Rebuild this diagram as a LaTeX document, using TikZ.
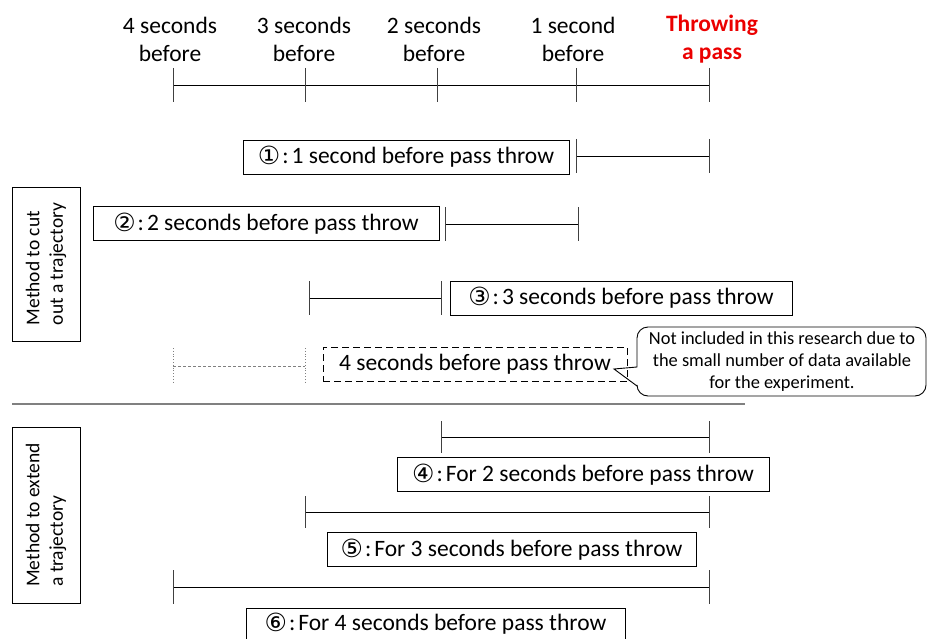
\documentclass[tikz,border=0pt]{standalone}
\usepackage{fontspec}
\setmainfont{Carlito}
\newfontfamily\circfont{DejaVu Sans}
\tikzset{
  lbl/.style={font=\fontsize{23.5}{28}\selectfont, align=center, inner sep=0pt},
  boxlbl/.style={draw, line width=0.9pt, font=\fontsize{23.5}{28}\selectfont, inner xsep=4pt, inner ysep=0pt, minimum height=34pt},
  sidebox/.style={draw, line width=0.9pt, rotate=90, minimum height=68pt, align=left, font=\fontsize{19.5}{23.5}\selectfont},
  seg/.style={line width=0.9pt},
  tickline/.style={line width=0.9pt, black!75},
  ghost/.style={line width=0.8pt, gray, dashed, dash pattern=on 3pt off 2pt},
}
\newcommand{\circn}[1]{{\circfont\fontsize{25}{25}\selectfont\raisebox{-1pt}{#1}}\kern2pt:\kern3pt}
\newcommand{\bracketline}[4][]{%
  \draw[seg,#1] (#2) -- (#3);
  \draw[tickline,#1] ([yshift=#4]#2) -- ([yshift=-#4]#2);
  \draw[tickline,#1] ([yshift=#4]#3) -- ([yshift=-#4]#3);
}
\begin{document}
\begin{tikzpicture}[x=1pt,y=-1pt]
\useasboundingbox (0,0) rectangle (928,639);

% top labels
\node[lbl] (t4) at (170,39) {4 seconds\\before};
\node[lbl] (t3) at (304,39) {3 seconds\\before};
\node[lbl] (t2) at (434,39) {2 seconds\\before};
\node[lbl] (t1) at (573,39) {1 second\\before};
\node[lbl, text={rgb,255:red,235;green,0;blue,0}, font=\bfseries\fontsize{23.5}{28}\selectfont] (t0) at (712,39) {Throwing\\a pass};

% axis
\coordinate (a4) at (173,85);
\coordinate (a3) at (305,85);
\coordinate (a2) at (437,85);
\coordinate (a1) at (576,85);
\coordinate (a0) at (709,85);
\draw[seg] (a4) -- (a0);
\foreach \c in {a4,a3,a2,a1,a0} {\draw[tickline] ([yshift=17]\c) -- ([yshift=-17]\c);}

% cut-out rows
\coordinate (r1a) at (576,156); \coordinate (r1b) at (709,156);
\coordinate (r2a) at (445,224); \coordinate (r2b) at (578,224);
\coordinate (r3a) at (309,298); \coordinate (r3b) at (441,298);
\coordinate (r4a) at (173,366); \coordinate (r4b) at (305,366);
\bracketline{r1a}{r1b}{17}
\bracketline{r2a}{r2b}{17}
\bracketline{r3a}{r3b}{17}
\draw[ghost] (r4a) -- (r4b);
\draw[gray, line width=0.8pt, dotted] ([yshift=18]r4a) -- ([yshift=-18]r4a);
\draw[gray, line width=0.8pt, dotted] ([yshift=18]r4b) -- ([yshift=-18]r4b);

\node[boxlbl, minimum width=326pt] (b1) at (406,157) {\circn{①}1 second before pass throw};
\node[boxlbl, minimum width=346pt] (b2) at (266,223.5) {\circn{②}2 seconds before pass throw};
\node[boxlbl, minimum width=342pt] (b3) at (621,298) {\circn{③}3 seconds before pass throw};
\node[boxlbl, dashed, dash pattern=on 7pt off 4pt, minimum width=304pt] (b4) at (475,364) {4 seconds before pass throw};

% callout
\node[font=\fontsize{18.4}{22}\selectfont, align=center, inner sep=0pt] (note) at (782,362)
  {Not included in this research due to\\the small number of data available\\for the experiment.};
\coordinate (tip) at (614,369);
\draw[line width=0.9pt] (tip) -- (637,367) [rounded corners=11pt] -- (637,327) -- (926,327) -- (926,396) -- (637,396) [sharp corners] -- (637,386) -- cycle;

% separator
\coordinate (s1) at (12,404); \coordinate (s2) at (745,404);
\draw[line width=1.5pt, gray] (s1) -- (s2);

% side boxes
\node[sidebox, minimum width=154pt] (m1) at (46,264) {Method to cut\\out a trajectory};
\node[sidebox, minimum width=176pt] (m2) at (46,515) {Method to extend\\a trajectory};

% extend rows
\coordinate (e1a) at (441,437); \coordinate (e1b) at (709,437);
\coordinate (e2a) at (305,512); \coordinate (e2b) at (709,512);
\coordinate (e3a) at (173,587); \coordinate (e3b) at (709,587);
\bracketline{e1a}{e1b}{16}
\bracketline{e2a}{e2b}{16}
\bracketline{e3a}{e3b}{17}

\node[boxlbl, minimum width=372pt] (b5) at (583,474.5) {\circn{④}For 2 seconds before pass throw};
\node[boxlbl, minimum width=369pt] (b6) at (511.5,549.5) {\circn{⑤}For 3 seconds before pass throw};
\node[boxlbl, minimum width=379pt, minimum height=32pt] (b7) at (435.5,624) {\circn{⑥}For 4 seconds before pass throw};
\end{tikzpicture}
\end{document}
